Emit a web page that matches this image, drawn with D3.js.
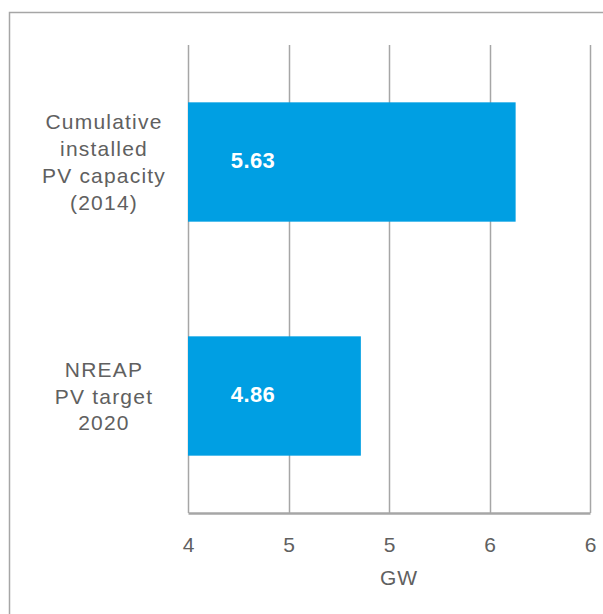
<!DOCTYPE html>
<html>
<head>
<meta charset="utf-8">
<script src="https://cdn.jsdelivr.net/npm/d3@7"></script>
<style>
  body { margin: 0; background: #fff; }
  svg { display: block; font-family: "Liberation Sans", Arial, sans-serif; }
</style>
</head>
<body>
<svg id="chart" width="603" height="614"></svg>
<script>
const categories = [
  ['Cumulative', 'installed', 'PV capacity', '(2014)'],
  ['NREAP', 'PV target', '2020'],
]
const values = [5.63, 4.86]
const valueLabels = ['5.63', '4.86']
const tickValues = [4, 4.5, 5, 5.5, 6]
const tickLabels = ['4', '5', '5', '6', '6']
const axisTitle = 'GW'

const svg = d3.select('#chart')
const width = +svg.attr('width')
const height = +svg.attr('height')

const margin = { top: 45, right: 13, bottom: 101, left: 188 }
const innerW = width - margin.left - margin.right
const innerH = height - margin.top - margin.bottom

const barColor = '#009fe3'
const gridColor = '#a6a6a6'
const textColor = '#606060'

// outer frame (runs off the right/bottom edges)
svg.append('rect')
  .attr('x', 9.5)
  .attr('y', 12.5)
  .attr('width', width)
  .attr('height', height)
  .attr('fill', 'none')
  .attr('stroke', gridColor)
  .attr('stroke-width', 1.5)

const x = d3.scaleLinear().domain([4, 6]).range([0, innerW])
const y = d3.scaleBand()
  .domain(d3.range(values.length))
  .range([0, innerH])
  .paddingInner(0.49)
  .paddingOuter(0.245)

const g = svg.append('g')
  .attr('transform', 'translate(' + margin.left + ',' + margin.top + ')')

// vertical grid lines
g.selectAll('.grid')
  .data(tickValues)
  .enter()
  .append('line')
  .attr('class', 'grid')
  .attr('x1', d => Math.round(x(d)) + 0.5)
  .attr('x2', d => Math.round(x(d)) + 0.5)
  .attr('y1', 0)
  .attr('y2', innerH)
  .attr('stroke', gridColor)
  .attr('stroke-width', 1.5)

// bars
g.selectAll('.bar')
  .data(values)
  .enter()
  .append('rect')
  .attr('class', 'bar')
  .attr('x', x(4))
  .attr('y', (_, i) => y(i))
  .attr('width', d => x(d) - x(4))
  .attr('height', y.bandwidth())
  .attr('fill', barColor)

// value labels on bars
g.selectAll('.value')
  .data(valueLabels)
  .enter()
  .append('text')
  .attr('class', 'value')
  .attr('x', x(4) + 65)
  .attr('y', (_, i) => y(i) + y.bandwidth() / 2 - 1.5)
  .attr('dy', '0.36em')
  .attr('text-anchor', 'middle')
  .attr('fill', '#fff')
  .style('font-size', '22px')
  .style('font-weight', 'bold')
  .style('letter-spacing', '0.4px')
  .text(d => d)

// x axis
const xAxis = d3.axisBottom(x)
  .tickValues(tickValues)
  .tickFormat((_, i) => tickLabels[i])
  .tickSize(0)
  .tickPadding(24)

const axisG = g.append('g')
  .attr('transform', 'translate(0,' + innerH + ')')
  .call(xAxis)
axisG.select('.domain')
  .attr('stroke', gridColor)
  .attr('stroke-width', 2.5)
axisG.selectAll('text')
  .attr('fill', textColor)
  .style('font-size', '21px')
  .attr('font-family', null)

g.append('text')
  .attr('x', innerW / 2 + 10)
  .attr('y', innerH + 72)
  .attr('text-anchor', 'middle')
  .attr('fill', textColor)
  .style('font-size', '21px')
  .style('letter-spacing', '0.8px')
  .text(axisTitle)

// category labels (multi-line)
const lineH = 26.8
const catG = svg.selectAll('.cat')
  .data(categories)
  .enter()
  .append('text')
  .attr('class', 'cat')
  .attr('text-anchor', 'middle')
  .attr('fill', textColor)
  .style('font-size', '21px')
  .style('letter-spacing', '1.2px')

catG.selectAll('tspan')
  .data((d, i) => d.map((line, j) => ({ line, j, n: d.length, i })))
  .enter()
  .append('tspan')
  .attr('x', 104)
  .attr('y', d => margin.top + y(d.i) + y.bandwidth() / 2 + (d.j - (d.n - 1) / 2) * lineH)
  .attr('dy', '0.36em')
  .text(d => d.line)
</script>
</body>
</html>
